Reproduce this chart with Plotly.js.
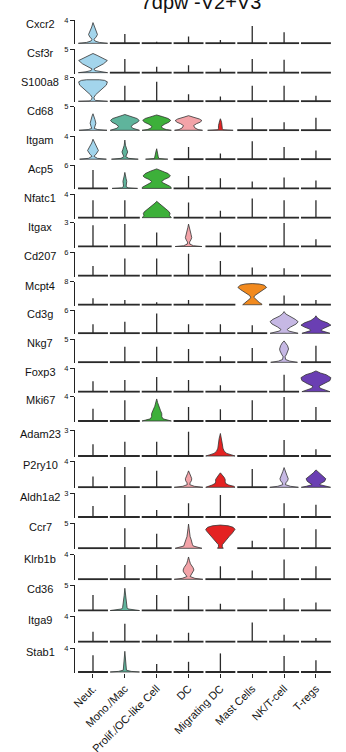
<!DOCTYPE html>
<html><head><meta charset="utf-8">
<script src="https://cdn.plot.ly/plotly-3.0.1.min.js"></script>
<style>html,body{margin:0;padding:0;background:#fff;}#chart{width:346px;height:752px;}</style>
</head><body><div id="chart"></div>
<script>
// ---------------- DATA ----------------
const cellTypes = ['Neut.', 'Mono./Mac', 'Prolif./OC-like Cell', 'DC', 'Migrating DC', 'Mast Cells', 'NK/T-cell', 'T-regs'];
const genes = ['Cxcr2','Csf3r','S100a8','Cd68','Itgam','Acp5','Nfatc1','Itgax','Cd207','Mcpt4','Cd3g','Nkg7','Foxp3','Mki67','Adam23','P2ry10','Aldh1a2','Ccr7','Klrb1b','Cd36','Itga9','Stab1'];
const yMax = [4,5,8,5,4,6,4,3,6,8,6,5,4,4,3,4,3,5,4,5,4,4];
// maximum expression reached in each cell type (rows = genes, cols = cell types)
const maxExpr = [
  [3.55,1.6,0.28,1.16,0.56,2.96,1.88,0],
  [4.1,2.95,1.25,1.6,0.9,2.95,2.75,0],
  [7.4,5.3,6.6,2.4,1.6,5.3,5.3,1.9],
  [3.5,3.35,3.25,3.1,2.45,2.65,1.7,2.65],
  [3.45,3.3,1.8,2.1,1.0,3.1,2.1,1.5],
  [4.7,4.1,5.0,3.2,2.6,1.8,2.8,2.0],
  [3.0,3.0,2.8,2.6,1.2,3.3,3.0,3.0],
  [2.67,2.8,1.75,2.8,1.75,0,2.95,0.9],
  [2.5,4.4,4.4,5.6,3.8,2.1,1.9,0],
  [2.25,1.7,0.9,1.7,0,7.35,3.2,1.7],
  [2.3,3.0,5.1,2.3,2.3,2.1,5.6,4.5],
  [0,3.4,3.4,2.9,1.3,3.1,4.65,3.6],
  [1.8,2.0,2.5,2.0,1.1,0,2.9,3.55],
  [2.0,3.4,3.6,2.3,1.9,3.4,3.9,2.3],
  [1.35,1.65,1.65,2.8,2.6,0,1.85,0.77],
  [1.65,3.1,2.5,2.5,2.2,2.8,3.0,2.65],
  [1.4,2.8,0.9,1.75,2.8,0,1.75,1.55],
  [0,4.0,2.9,4.85,4.65,1.5,4.0,3.8],
  [0,2.3,2.3,3.6,2.1,1.4,3.2,2.1],
  [3.05,4.35,3.05,2.85,1.3,0,2.4,1.55],
  [1.55,2.8,1.15,1.4,0,3.0,1.1,0.6],
  [2.8,3.45,1.35,1.7,3.1,0,2.65,1.95]
];
// density profiles of the visible violins: expression levels (y) and half-widths (w)
const violinProfiles = [
  {gene:'Cxcr2', cell:'Neut.', y:[0,0.15,0.4,0.7,1.0,1.5,2.1,2.8,3.55], w:[0.46,0.2,0.06,0.03,0.09,0.14,0.1,0.04,0]},
  {gene:'Csf3r', cell:'Neut.', y:[0,0.2,0.45,0.8,1.3,1.9,2.6,3.2,3.7,4.1], w:[0.46,0.22,0.06,0.03,0.15,0.33,0.45,0.3,0.13,0]},
  {gene:'S100a8', cell:'Neut.', y:[0,0.12,0.3,0.7,1.3,2.2,3.8,5.5,6.6,7.1,7.3,7.4], w:[0.46,0.12,0.08,0.04,0.03,0.08,0.25,0.42,0.45,0.36,0.2,0]},
  {gene:'Cd68', cell:'Neut.', y:[0,0.15,0.4,0.8,1.5,2.3,3.0,3.5], w:[0.44,0.15,0.04,0.06,0.09,0.06,0.03,0]},
  {gene:'Cd68', cell:'Mono./Mac', y:[0,0.15,0.45,0.85,1.3,1.7,2.1,2.5,2.9,3.2,3.35], w:[0.46,0.35,0.24,0.2,0.28,0.4,0.45,0.38,0.2,0.06,0]},
  {gene:'Cd68', cell:'Prolif./OC-like Cell', y:[0,0.15,0.45,0.85,1.3,1.7,2.1,2.5,2.9,3.15,3.25], w:[0.46,0.3,0.18,0.15,0.25,0.38,0.44,0.36,0.18,0.05,0]},
  {gene:'Cd68', cell:'DC', y:[0,0.15,0.5,1.0,1.4,1.7,2.05,2.4,2.8,3.1], w:[0.44,0.3,0.2,0.16,0.25,0.36,0.42,0.34,0.14,0]},
  {gene:'Cd68', cell:'Migrating DC', y:[0,0.12,0.4,1.0,1.6,2.1,2.45], w:[0.4,0.08,0.06,0.06,0.04,0.02,0]},
  {gene:'Itgam', cell:'Neut.', y:[0,0.15,0.5,0.9,1.5,2.1,2.8,3.45], w:[0.42,0.14,0.03,0.1,0.17,0.12,0.04,0]},
  {gene:'Itgam', cell:'Mono./Mac', y:[0,0.15,0.45,0.8,1.25,1.7,2.4,3.3], w:[0.42,0.12,0.03,0.06,0.09,0.06,0.02,0]},
  {gene:'Itgam', cell:'Prolif./OC-like Cell', y:[0,0.12,0.4,0.9,1.4,1.8], w:[0.35,0.07,0.05,0.04,0.02,0]},
  {gene:'Acp5', cell:'Mono./Mac', y:[0,0.15,0.5,1.2,1.8,2.5,3.2,4.1], w:[0.4,0.1,0.04,0.05,0.06,0.04,0.02,0]},
  {gene:'Acp5', cell:'Prolif./OC-like Cell', y:[0,0.3,0.6,1.0,1.5,1.8,2.3,2.8,3.2,3.8,4.4,5.0], w:[0.46,0.45,0.4,0.3,0.18,0.16,0.24,0.38,0.43,0.36,0.2,0]},
  {gene:'Nfatc1', cell:'Prolif./OC-like Cell', y:[0,0.2,0.4,0.7,1.0,1.3,1.6,1.85,2.2,2.5,2.8], w:[0.46,0.42,0.4,0.42,0.39,0.33,0.26,0.2,0.12,0.05,0]},
  {gene:'Itgax', cell:'DC', y:[0,0.1,0.3,0.55,0.8,1.1,1.5,2.0,2.4,2.8], w:[0.42,0.15,0.04,0.03,0.07,0.1,0.08,0.04,0.02,0]},
  {gene:'Mcpt4', cell:'Mast Cells', y:[0,0.3,0.8,1.5,2.1,2.6,3.2,4.3,5.2,6.0,6.8,7.2,7.35], w:[0.3,0.3,0.22,0.14,0.07,0.05,0.08,0.22,0.36,0.45,0.38,0.22,0]},
  {gene:'Cd3g', cell:'NK/T-cell', y:[0,0.25,0.6,1.0,1.6,2.4,3.0,3.6,4.4,5.0,5.6], w:[0.44,0.3,0.14,0.1,0.2,0.38,0.44,0.35,0.15,0.05,0]},
  {gene:'Cd3g', cell:'T-regs', y:[0,0.3,0.7,1.1,1.6,2.1,2.7,3.3,4.0,4.5], w:[0.44,0.3,0.16,0.2,0.36,0.47,0.36,0.16,0.04,0]},
  {gene:'Nkg7', cell:'NK/T-cell', y:[0,0.25,0.6,1.2,1.8,2.5,2.9,3.6,4.2,4.65], w:[0.42,0.18,0.05,0.03,0.08,0.13,0.14,0.11,0.06,0]},
  {gene:'Foxp3', cell:'T-regs', y:[0,0.25,0.6,0.95,1.4,1.9,2.4,2.9,3.2,3.55], w:[0.44,0.3,0.13,0.1,0.28,0.44,0.47,0.32,0.14,0]},
  {gene:'Mki67', cell:'Prolif./OC-like Cell', y:[0,0.15,0.35,0.7,1.2,1.7,2.4,3.0,3.6], w:[0.46,0.35,0.2,0.16,0.16,0.12,0.06,0.03,0]},
  {gene:'Adam23', cell:'Migrating DC', y:[0,0.12,0.3,0.55,0.9,1.4,2.0,2.6], w:[0.46,0.35,0.2,0.12,0.08,0.06,0.04,0]},
  {gene:'P2ry10', cell:'DC', y:[0,0.15,0.4,0.7,1.0,1.3,1.7,2.1,2.5], w:[0.45,0.18,0.04,0.05,0.09,0.1,0.07,0.03,0]},
  {gene:'P2ry10', cell:'Migrating DC', y:[0,0.15,0.35,0.6,0.9,1.2,1.5,1.9,2.2], w:[0.46,0.42,0.26,0.16,0.15,0.15,0.12,0.05,0]},
  {gene:'P2ry10', cell:'NK/T-cell', y:[0,0.15,0.4,0.7,1.0,1.3,1.8,2.4,3.0], w:[0.45,0.2,0.04,0.06,0.11,0.13,0.09,0.04,0]},
  {gene:'P2ry10', cell:'T-regs', y:[0,0.15,0.4,0.6,0.9,1.3,1.7,2.2,2.65], w:[0.46,0.3,0.12,0.15,0.27,0.31,0.22,0.08,0]},
  {gene:'Ccr7', cell:'DC', y:[0,0.2,0.45,0.8,1.3,1.8,2.3,3.0,4.0,4.85], w:[0.42,0.3,0.15,0.12,0.11,0.08,0.05,0.03,0.015,0]},
  {gene:'Ccr7', cell:'Migrating DC', y:[0,0.3,0.7,1.2,1.8,2.4,3.0,3.5,3.8,4.2,4.5,4.65], w:[0.09,0.06,0.06,0.12,0.2,0.28,0.37,0.44,0.46,0.4,0.25,0]},
  {gene:'Klrb1b', cell:'DC', y:[0,0.15,0.45,0.8,1.2,1.5,1.9,2.5,3.0,3.6], w:[0.45,0.2,0.05,0.09,0.16,0.17,0.14,0.06,0.03,0]},
  {gene:'Cd36', cell:'Mono./Mac', y:[0,0.12,0.3,0.6,1.2,2.0,3.0,4.35], w:[0.46,0.28,0.1,0.07,0.06,0.04,0.02,0]},
  {gene:'Stab1', cell:'Mono./Mac', y:[0,0.1,0.3,0.8,1.5,2.5,3.45], w:[0.46,0.2,0.05,0.04,0.025,0.015,0]}
];

// ---------------- STYLE / LAYOUT ----------------
const cellColors = ['#a3d5ec','#5fb49c','#3db03a','#f3a3a8','#e42222','#f28a1e','#c6b8e4','#6a3fb3'];
const FONT = 'Liberation Sans, Arial, Helvetica, sans-serif';
// pixel positions of each panel's top and baseline
const panelTop  = [20,49.3,77.7,106.7,136,165,194.3,222.5,252.3,281.7,310,339.3,368.3,396.5,430,461,493.3,523.3,554.5,585,616,648];
const panelBase = [43.3,72.7,101.3,130.3,159.2,188.4,217.7,246.5,275.8,304.8,333.3,362.3,391.7,421,456,487.3,517,548.3,579.3,610.5,641.8,672];
const W = 346, Hfig = 752, ML = 75, MR = 10, MT = 20, PB = 673;
const MB = Hfig - PB, PH = PB - MT, PW = W - ML - MR;
const BASE_HW = 0.47;

const traces = [];
const layout = {
  width: W, height: Hfig,
  margin: {l: ML, r: MR, t: MT, b: MB},
  paper_bgcolor: '#fff', plot_bgcolor: '#fff',
  showlegend: false,
  font: {family: FONT, color: '#111'},
  title: {text: '7dpw -V2+V3', font: {family: FONT, size: 20, color: '#111'},
          x: 201/W, xanchor: 'center', xref: 'container',
          y: 1 - 1.5/Hfig, yref: 'container', yanchor: 'middle'},
  xaxis: {range: [-0.565, 7.63], tickmode: 'array', tickvals: cellTypes.map((c,k)=>k), ticktext: cellTypes,
          tickangle: -45, ticks: 'outside', ticklen: 4, tickwidth: 1, tickcolor: '#222',
          showline: false, showgrid: false, zeroline: false, anchor: 'y' + genes.length,
          tickfont: {family: FONT, size: 11, color: '#111'}, fixedrange: true},
  annotations: []
};

genes.forEach((g, i) => {
  const yk = i === 0 ? 'y' : 'y' + (i + 1);
  const axName = i === 0 ? 'yaxis' : 'yaxis' + (i + 1);
  const top = panelTop[i], base = panelBase[i];
  const hpx = base - top;
  const d0 = Math.max(0, (PB - (base + 1)) / PH), d1 = Math.min(1, (PB - top) / PH);
  layout[axName] = {
    domain: [d0, d1], range: [-yMax[i] / hpx, yMax[i]], anchor: 'x',
    tickmode: 'array', tickvals: [yMax[i]], ticktext: [String(yMax[i])],
    ticks: 'outside', ticklen: 4, tickwidth: 1, tickcolor: '#222',
    showline: true, linecolor: '#222', linewidth: 1.2,
    showgrid: false, zeroline: false, fixedrange: true,
    tickfont: {family: FONT, size: 7.5, color: '#111'}
  };
  layout.annotations.push({
    text: g, xref: 'paper', yref: 'paper', x: (40 - ML) / PW, y: d1,
    xanchor: 'center', yanchor: 'middle', yshift: -4, showarrow: false,
    font: {family: FONT, size: 11, color: '#111'}
  });

  const sx = [], sy = [], bx = [], by = [];
  cellTypes.forEach((c, k) => {
    const prof = violinProfiles.find(p => p.gene === g && p.cell === c);
    if (prof) {
      const px = [], py = [];
      prof.y.forEach((v, j) => { px.push(k + prof.w[j]); py.push(v); });
      for (let j = prof.y.length - 1; j >= 0; j--) { px.push(k - prof.w[j]); py.push(prof.y[j]); }
      px.push(px[0]); py.push(py[0]);
      traces.push({type: 'scatter', mode: 'lines', x: px, y: py, xaxis: 'x', yaxis: yk,
        fill: 'toself', fillcolor: cellColors[k], line: {color: '#333', width: 0.8},
        hoverinfo: 'skip'});
    } else {
      bx.push(k - BASE_HW, k + BASE_HW, null); by.push(0, 0, null);
      const h = maxExpr[i][k];
      if (h > 0) { sx.push(k, k, null); sy.push(0, h, null); }
    }
  });
  traces.push({type: 'scatter', mode: 'lines', x: bx, y: by, xaxis: 'x', yaxis: yk,
    line: {color: '#2a2a2a', width: 2}, hoverinfo: 'skip'});
  traces.push({type: 'scatter', mode: 'lines', x: sx, y: sy, xaxis: 'x', yaxis: yk,
    line: {color: '#2a2a2a', width: 1.3}, hoverinfo: 'skip'});
});

Plotly.newPlot('chart', traces, layout, {staticPlot: true, displayModeBar: false});
</script>
</body></html>
